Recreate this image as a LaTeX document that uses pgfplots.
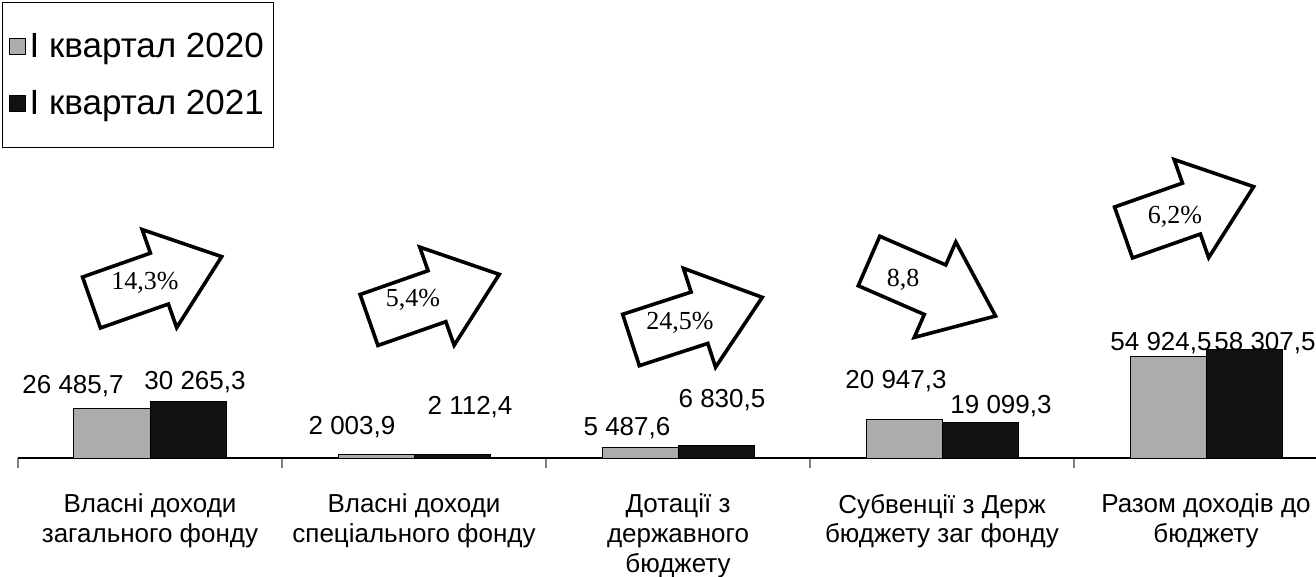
\documentclass[border=0pt]{standalone}
\usepackage{fontspec}
\setmainfont{Liberation Sans}
\newfontfamily\seriffont{Liberation Serif}
\usepackage{pgfplots}
\usepackage{pgfplotstable}
\pgfplotsset{compat=1.18}

\definecolor{barlight}{RGB}{172,172,172}
\definecolor{bardark}{RGB}{18,18,18}

% values, with the offset of each value label (pt) from the bar top
\pgfplotstableread{
x y dx dy
0 26485.7 -19.5 11.5
1 2003.9 -12 13.6
2 5487.6 -6.5 9.9
3 20947.3 -4 19.1
4 54924.5 -3.5 6.7
}\qone
\pgfplotstableread{
x y dx dy
0 30265.3 3.5 10
1 2112.4 9 23.5
2 6830.5 3 22.7
3 19099.3 10.5 8.3
4 58307.5 10.5 3.5
}\qtwo

% block arrow: tail middle x, y (pt), angle, text x, y, text
\newcommand{\growarrow}[6]{%
  \draw[line width=1.8pt, fill=white, shift={(#1pt,#2pt)}, rotate=#3]
    (0pt,-13.5pt) -- (36pt,-13.5pt) -- (36pt,-26pt) -- (69pt,0pt)
    -- (36pt,26pt) -- (36pt,13.5pt) -- (0pt,13.5pt) -- cycle;
  \node[font=\seriffont\fontsize{13}{15}\selectfont] at (#4pt,#5pt) {#6};
}

\begin{document}
\begin{tikzpicture}
\begin{axis}[
  scale only axis, width=649pt, height=229pt,
  xmin=-0.5, xmax=4.4167, ymin=0, ymax=247000,
  axis x line*=bottom, axis y line=none,
  axis line style={line width=0.75pt},
  clip=false,
  ybar=0pt, bar width=38pt,
  xtick={0,...,4},
  xticklabels={{Власні доходи\\загального фонду},
               {Власні доходи\\спеціального фонду},
               {Дотації з\\державного\\бюджету},
               {Субвенції з Держ\\бюджету заг фонду},
               {Разом доходів до\\бюджету}},
  xticklabel style={font=\fontsize{13}{14.8}\selectfont, align=center, yshift=-14.5pt},
  major tick length=0pt,
  minor xtick={-0.5,0.5,1.5,2.5,3.5},
  minor tick length=5pt, xtick align=outside,
  minor tick style={line width=0.75pt},
  ytick=\empty,
  nodes near coords={\pgfmathprintnumber[fixed, precision=1, zerofill, use comma, 1000 sep={\ }]{\pgfplotspointmeta}},
  /pgf/number format/assume math mode=true,
  visualization depends on={\thisrow{dx} \as \dx},
  visualization depends on={\thisrow{dy} \as \dy},
  nodes near coords style={anchor=center, xshift=\dx pt, yshift=\dy pt,
    font=\fontsize{13}{15}\selectfont, inner sep=0pt},
  legend style={at={(axis description cs:-0.0123,0.9956)}, anchor=north west,
    draw=black, line width=0.6pt, font=\fontsize{17.5}{20}\selectfont,
    row sep=11pt, inner xsep=3pt, inner ysep=13pt},
  legend cell align=left,
  legend image code/.code={\draw[#1, line width=0.5pt] (1pt,-4pt) rectangle (9pt,4pt);},
]
\addplot[draw=black, line width=0.5pt, fill=barlight] table[x=x, y=y] {\qone};
\addplot[draw=black, line width=0.5pt, fill=bardark] table[x=x, y=y] {\qtwo};
\legend{I квартал 2020, I квартал 2021}
\end{axis}
\growarrow{36.75}{77.75}{19.4}{63.5}{87.5}{14,3\%}
\growarrow{175.5}{69}{19.3}{197.5}{79}{5,4\%}
\growarrow{306.5}{59}{18}{331}{67.5}{24,5\%}
\growarrow{425.5}{98.5}{-23.5}{442.5}{89}{8,8}
\growarrow{552.75}{112.75}{19.4}{578.5}{120.5}{6,2\%}
\pgfresetboundingbox
\path (-9pt,-59.5pt) rectangle (649pt,229pt);
\end{tikzpicture}
\end{document}
